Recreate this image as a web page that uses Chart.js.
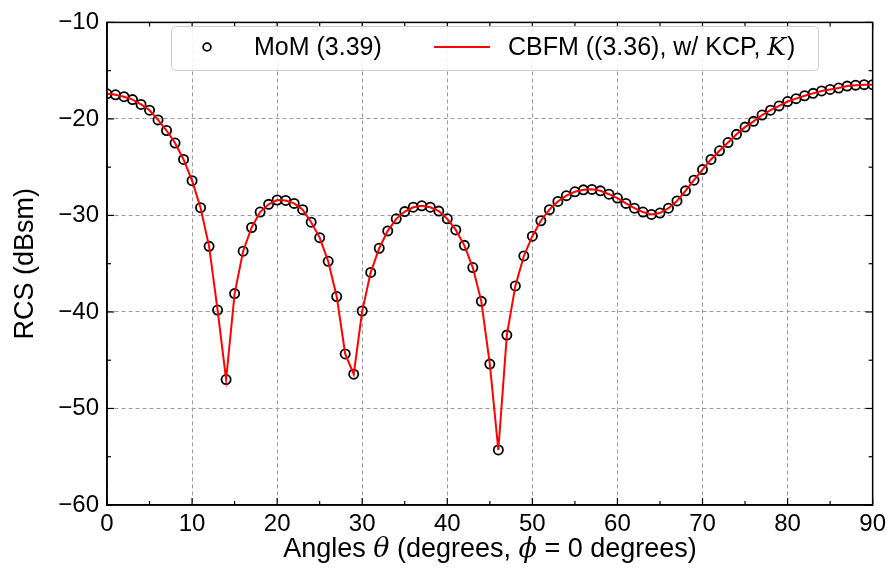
<!DOCTYPE html>
<html>
<head>
<meta charset="utf-8">
<script src="https://cdn.jsdelivr.net/npm/chart.js@4.4.1/dist/chart.umd.min.js"></script>
<style>
html,body{margin:0;padding:0;background:#fff;}
#wrap{width:891px;height:574px;position:relative;}
</style>
</head>
<body>
<div id="wrap"><canvas id="rcsChart"></canvas></div>
<script>
// angles theta (degrees)
const angles = [
  0,1,2,3,4,5,6,7,8,9,10,11,12,13,14,15,16,17,18,19,
  20,21,22,23,24,25,26,27,28,29,30,31,32,33,34,35,36,37,38,39,
  40,41,42,43,44,45,46,47,48,49,50,51,52,53,54,55,56,57,58,59,
  60,61,62,63,64,65,66,67,68,69,70,71,72,73,74,75,76,77,78,79,
  80,81,82,83,84,85,86,87,88,89,90
];

// MoM (3.39), dBsm
const momValues = [
  -17.4,-17.5,-17.7,-18.0,-18.5,-19.1,-20.1,-21.2,-22.5,-24.2,
  -26.4,-29.2,-33.2,-39.8,-47.0,-38.1,-33.7,-31.25,-29.65,-28.85,
  -28.4,-28.45,-28.75,-29.4,-30.7,-32.3,-34.75,-38.4,-44.35,-46.45,
  -39.9,-35.9,-33.4,-31.6,-30.35,-29.6,-29.15,-29.0,-29.15,-29.55,
  -30.35,-31.5,-33.1,-35.4,-38.9,-45.4,-54.3,-42.4,-37.3,-34.2,
  -32.15,-30.55,-29.4,-28.55,-27.95,-27.55,-27.35,-27.3,-27.45,-27.8,
  -28.2,-28.75,-29.25,-29.65,-29.9,-29.75,-29.25,-28.5,-27.45,-26.35,
  -25.25,-24.2,-23.3,-22.45,-21.6,-20.85,-20.25,-19.6,-19.1,-18.65,
  -18.2,-17.9,-17.6,-17.35,-17.1,-16.95,-16.8,-16.6,-16.5,-16.45,
  -16.45
];

// CBFM ((3.36), w/ KCP, K), dBsm
const cbfmValues = [
  -17.4,-17.5,-17.7,-18.0,-18.5,-19.1,-20.1,-21.2,-22.5,-24.2,
  -26.4,-29.2,-33.2,-39.8,-47.0,-38.1,-33.7,-31.25,-29.65,-28.85,
  -28.4,-28.45,-28.75,-29.4,-30.7,-32.3,-34.75,-38.4,-44.35,-46.45,
  -39.9,-35.9,-33.4,-31.6,-30.35,-29.6,-29.15,-29.0,-29.15,-29.55,
  -30.35,-31.5,-33.1,-35.4,-38.9,-45.4,-54.3,-42.4,-37.3,-34.2,
  -32.15,-30.55,-29.4,-28.55,-27.95,-27.55,-27.35,-27.3,-27.45,-27.8,
  -28.2,-28.75,-29.25,-29.65,-29.9,-29.75,-29.25,-28.5,-27.45,-26.35,
  -25.25,-24.2,-23.3,-22.45,-21.6,-20.85,-20.25,-19.6,-19.1,-18.65,
  -18.2,-17.9,-17.6,-17.35,-17.1,-16.95,-16.8,-16.6,-16.5,-16.45,
  -16.45
];

const xTicks = [0,10,20,30,40,50,60,70,80,90];
const yTicks = [-60,-50,-40,-30,-20,-10];
const xMinorTicks = [5,15,25,35,45,55,65,75,85];
const yMinorTicks = [-55,-45,-35,-25,-15];

const fontFamily = "'Liberation Sans', Arial, Helvetica, sans-serif";

function toPoints(vals){
    return angles.map((a,i)=>({x:a,y:vals[i]}));
}

// frame, inward ticks, axis titles and legend
const decorPlugin = {
    id: "decor",
    afterDraw(chart){
        const ctx = chart.ctx;
        const a = chart.chartArea;
        const xs = chart.scales.x;
        const ys = chart.scales.y;

        ctx.save();
        ctx.strokeStyle = "#000";
        ctx.lineWidth = 1.5;
        ctx.strokeRect(a.left, a.top, a.right - a.left, a.bottom - a.top);

        ctx.lineWidth = 1.2;
        const tick = (x1,y1,x2,y2)=>{
            ctx.beginPath(); ctx.moveTo(x1,y1); ctx.lineTo(x2,y2); ctx.stroke();
        };
        xTicks.concat(xMinorTicks).forEach(v=>{
            const len = xTicks.includes(v) ? 7 : 4;
            const px = xs.getPixelForValue(v);
            tick(px, a.bottom, px, a.bottom - len);
            tick(px, a.top, px, a.top + len);
        });
        yTicks.concat(yMinorTicks).forEach(v=>{
            const len = yTicks.includes(v) ? 7 : 4;
            const py = ys.getPixelForValue(v);
            tick(a.left, py, a.left + len, py);
            tick(a.right, py, a.right - len, py);
        });

        // x title with italic symbols
        ctx.fillStyle = "#000";
        ctx.textBaseline = "alphabetic";
        const up = "27px " + fontFamily;
        const it = "italic 27px 'DejaVu Serif', serif";
        const parts = [
            ["Angles ", up], ["\u03b8", it], [" (degrees, ", up],
            ["\u03d5", it], [" = 0 degrees)", up]
        ];
        let total = 0;
        parts.forEach(p=>{ ctx.font = p[1]; total += ctx.measureText(p[0]).width; });
        let x = 490 - total/2;
        ctx.textAlign = "left";
        parts.forEach(p=>{
            ctx.font = p[1];
            ctx.fillText(p[0], x, 557);
            x += ctx.measureText(p[0]).width;
        });

        // y title
        ctx.save();
        ctx.translate(33, (a.top + a.bottom)/2);
        ctx.rotate(-Math.PI/2);
        ctx.textAlign = "center";
        ctx.font = up;
        ctx.fillText("RCS (dBsm)", 0, 0);
        ctx.restore();

        // legend
        ctx.fillStyle = "rgba(255,255,255,0.9)";
        ctx.strokeStyle = "#cccccc";
        ctx.lineWidth = 1;
        ctx.beginPath();
        ctx.roundRect(171.5, 26.5, 647, 44, 4);
        ctx.fill();
        ctx.stroke();

        ctx.strokeStyle = "#000";
        ctx.lineWidth = 1.7;
        ctx.beginPath();
        ctx.arc(207, 47, 3.9, 0, Math.PI*2);
        ctx.stroke();

        ctx.strokeStyle = "#ff0000";
        ctx.lineWidth = 2;
        tick(434, 47, 490, 47);

        ctx.fillStyle = "#000";
        ctx.textAlign = "left";
        ctx.textBaseline = "middle";
        const lg = "25px " + fontFamily;
        ctx.font = lg;
        ctx.fillText("MoM (3.39)", 254, 48);
        const t1 = "CBFM ((3.36), w/ KCP, ";
        ctx.fillText(t1, 508, 48);
        let lx = 508 + ctx.measureText(t1).width;
        ctx.font = "italic 25px 'DejaVu Serif', serif";
        ctx.fillText("K", lx, 48);
        lx += ctx.measureText("K").width + 1;
        ctx.font = lg;
        ctx.fillText(")", lx, 48);
        ctx.restore();
    }
};

window.onload = () => {

    const ctx = document.getElementById("rcsChart");

    new Chart(ctx, {
        type: "scatter",
        data: {
            datasets: [
                {
                    label: "CBFM ((3.36), w/ KCP, K)",
                    data: toPoints(cbfmValues),
                    showLine: true,
                    borderColor: "#ff0000",
                    borderWidth: 2,
                    pointRadius: 0,
                    tension: 0,
                    order: 0
                },
                {
                    label: "MoM (3.39)",
                    data: toPoints(momValues),
                    showLine: false,
                    pointStyle: "circle",
                    pointRadius: 4.6,
                    borderColor: "#000",
                    borderWidth: 1.8,
                    backgroundColor: "rgba(0,0,0,0)",
                    order: 1
                }
            ]
        },
        options: {
            animation: false,
            responsive: true,
            maintainAspectRatio: false,
            layout: { padding: { left: 0, right: 18, top: 13, bottom: 0 } },
            plugins: {
                legend: { display: false },
                tooltip: { enabled: false }
            },
            scales: {
                x: {
                    type: "linear",
                    min: 0,
                    max: 90,
                    afterBuildTicks: s => { s.ticks = xTicks.map(v => ({ value: v })); },
                    afterFit: s => { s.height = 69; },
                    ticks: {
                        color: "#000",
                        padding: 5,
                        maxRotation: 0,
                        font: { family: fontFamily, size: 24 }
                    },
                    grid: { color: "#9a9a9a", lineWidth: 1, drawTicks: false },
                    border: { display: true, color: "#000", width: 1.5, dash: [4, 3] }
                },
                y: {
                    type: "linear",
                    min: -60,
                    max: -10,
                    afterBuildTicks: s => { s.ticks = yTicks.map(v => ({ value: v })); },
                    afterFit: s => { s.width = 107; },
                    ticks: {
                        color: "#000",
                        padding: 8,
                        font: { family: fontFamily, size: 24 },
                        callback: v => v < 0 ? "\u2212" + Math.abs(v) : String(v)
                    },
                    grid: { color: "#9a9a9a", lineWidth: 1, drawTicks: false },
                    border: { display: true, color: "#000", width: 1.5, dash: [4, 3] }
                }
            }
        },
        plugins: [decorPlugin]
    });
};
</script>
</body>
</html>
